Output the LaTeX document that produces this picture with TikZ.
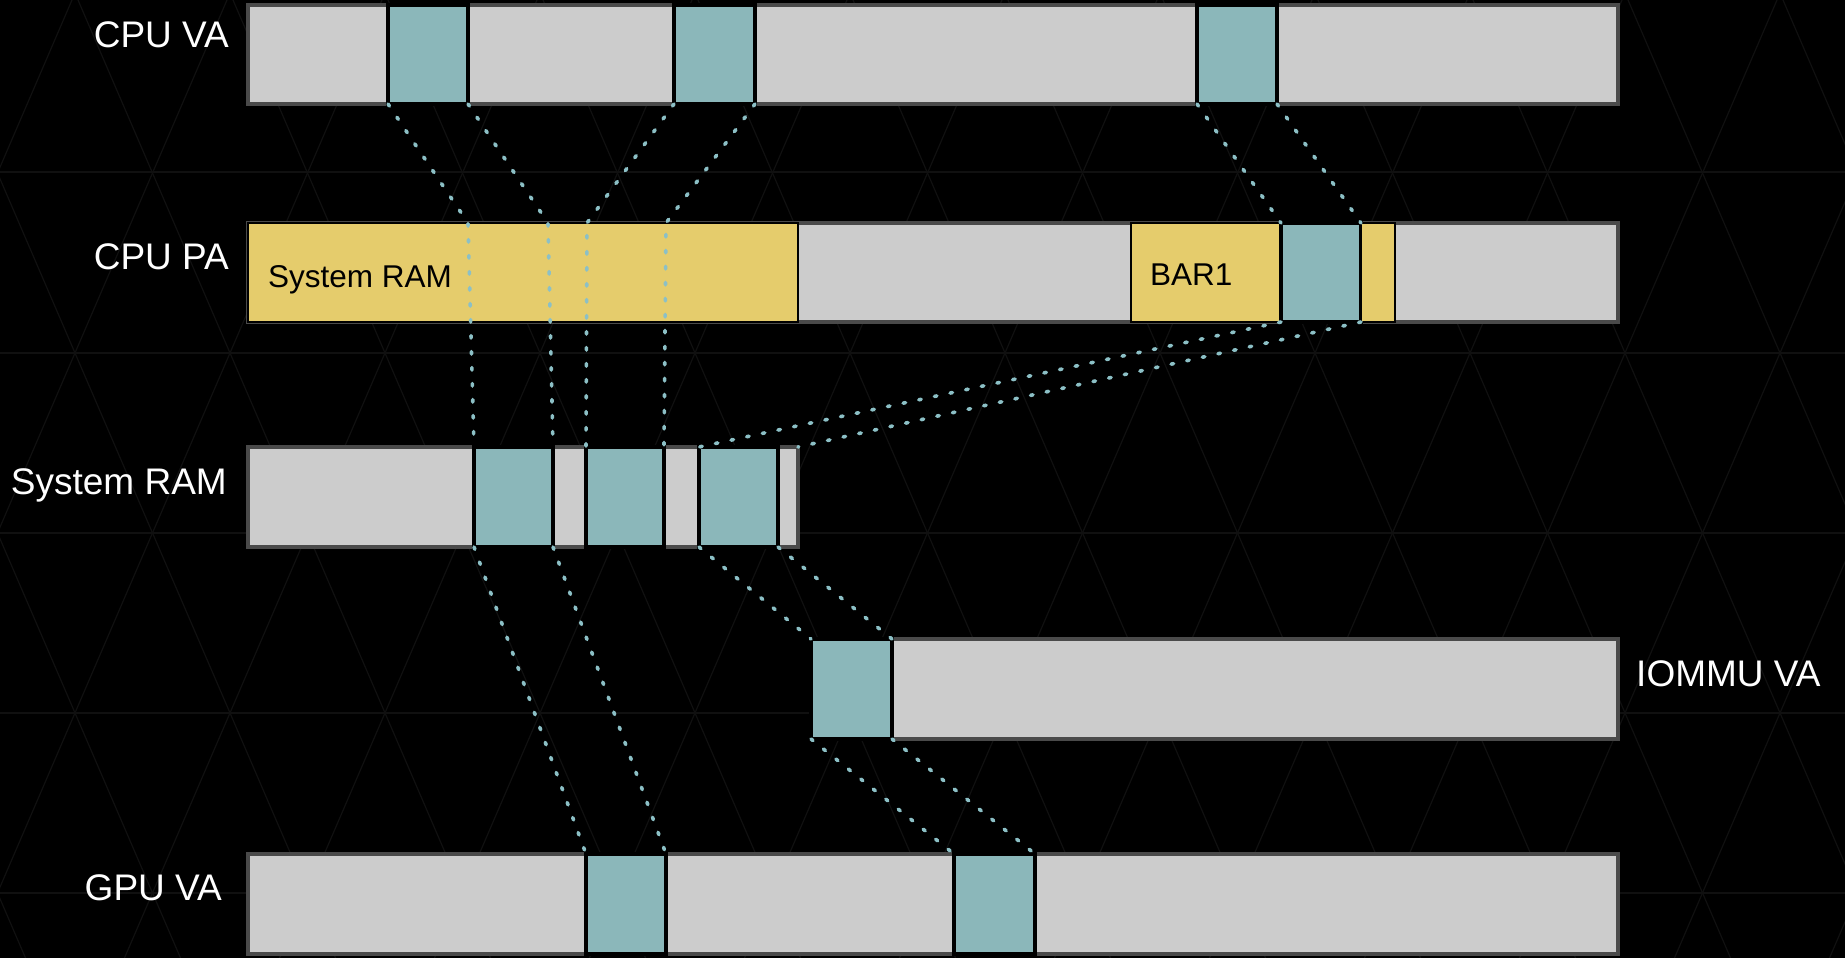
\documentclass[tikz,border=0pt]{standalone}
\usepackage{fontspec}
\setmainfont{Liberation Sans}
\definecolor{bgcol}{HTML}{000000}
\definecolor{gridcol}{HTML}{101010}
\definecolor{barfill}{HTML}{CCCCCC}
\definecolor{barline}{HTML}{4A4A4A}
\definecolor{pagefill}{HTML}{8BB7BA}
\definecolor{ramfill}{HTML}{E5CC6C}
\definecolor{dotcol}{HTML}{8CC0C6}
\tikzset{
  bar/.style={draw=barline, line width=4pt, fill=barfill, inner sep=0pt, outer sep=0pt, anchor=north west},
  page/.style={draw=black, line width=3.5pt, fill=pagefill, inner sep=0pt, outer sep=0pt, anchor=north west},
  ram/.style={draw=black, line width=2.5pt, fill=ramfill, inner sep=0pt, outer sep=0pt, anchor=north west},
  map/.style={draw=dotcol, line width=3.6pt, dash pattern=on 2.5pt off 13.5pt, line cap=round},
  lbl/.style={text=white, font=\fontsize{37}{44}\selectfont, inner sep=0pt},
  inlbl/.style={text=black, font=\fontsize{31.5}{38}\selectfont, inner sep=0pt, anchor=base west},
  grid/.style={draw=gridcol, line width=1.2pt}
}
% \region{name}{style}{x1}{x2}{y1}{y2}
\newcommand{\region}[6]{\node[#2, minimum width={#4-#3}, minimum height={#6-#5}] (#1) at (#3,#5) {};}
\begin{document}
\begin{tikzpicture}[x=1pt,y=-1pt]
\useasboundingbox (0,0) rectangle (1845,958);
\fill[bgcol] (0,0) rectangle (1845,958);

% faint triangular lattice in the background
\begin{scope}
  \clip (0,0) rectangle (1845,958);
  \foreach \n in {-4,...,15} {
    \draw[grid] ({75+155*\n+311.3},-10) -- ({75+155*\n-110.7},970);
    \draw[grid] ({75+155*\n-311.3},-10) -- ({75+155*\n+110.7},970);
  }
  \foreach \yy in {-8,172,353,533,713,893}
    \draw[grid] (0,\yy) -- (1845,\yy);
\end{scope}

% CPU virtual address space
\region{cpuva}{bar}{248}{1618}{5}{104}
\region{va1}{page}{388}{468}{5}{104}
\region{va2}{page}{674}{755}{5}{104}
\region{va3}{page}{1197}{1277}{5}{104}

% CPU physical address space
\region{cpupa}{bar}{248}{1618}{223}{322}
\region{sysram}{ram}{248}{798}{223}{322}
\region{bar1}{ram}{1131}{1281}{223}{322}
\region{bart}{page}{1281}{1361}{223}{322}
\region{bar1b}{ram}{1361}{1395}{223}{322}
\node[inlbl] (sysramlbl) at (268,287) {System RAM};
\node[inlbl] (bar1lbl) at (1150,285) {BAR1};

% system memory
\region{ramb}{bar}{248}{798}{447}{547}
\region{ram1}{page}{474}{553}{447}{547}
\region{ram2}{page}{586}{664}{447}{547}
\region{ram3}{page}{699}{778}{447}{547}

% IOMMU virtual address space
\region{iova}{bar}{811}{1618}{639}{739}
\region{io1}{page}{811}{892}{639}{739}

% GPU virtual address space
\region{gpuva}{bar}{248}{1618}{854}{954}
\region{gpu1}{page}{586}{666}{854}{954}
\region{gpu2}{page}{954}{1035}{854}{954}

% row labels
\node[lbl, anchor=base east] (lva) at (229,48) {CPU VA};
\node[lbl, anchor=base east] (lpa) at (229,269) {CPU PA};
\node[lbl, anchor=base east] (lram) at (227,494) {System RAM};
\node[lbl, anchor=base west] (lio) at (1636,686) {IOMMU VA};
\node[lbl, anchor=base east] (lgpu) at (222,900) {GPU VA};

% bend points where CPU VA pages land in the System RAM range
\coordinate (p1) at (468,223);
\coordinate (p2) at (548,223);
\coordinate (p3) at (587,223);
\coordinate (p4) at (666,223);

% mappings
\draw[map] (va1.south west) -- (p1) -- (ram1.north west);
\draw[map] (va1.south east) -- (p2) -- (ram1.north east);
\draw[map] (va2.south west) -- (p3) -- (ram2.north west);
\draw[map] (va2.south east) -- (p4) -- (ram2.north east);
\draw[map] (va3.south west) -- (bart.north west);
\draw[map] (va3.south east) -- (bart.north east);
\draw[map] (bart.south west) -- (ram3.north west);
\draw[map] (bart.south east) -- (ramb.north east);
\draw[map] (ram3.south west) -- (io1.north west);
\draw[map] (ram3.south east) -- (io1.north east);
\draw[map] (io1.south west) -- (gpu2.north west);
\draw[map] (io1.south east) -- (gpu2.north east);
\draw[map] (ram1.south west) -- (gpu1.north west);
\draw[map] (ram1.south east) -- (gpu1.north east);
\end{tikzpicture}
\end{document}
